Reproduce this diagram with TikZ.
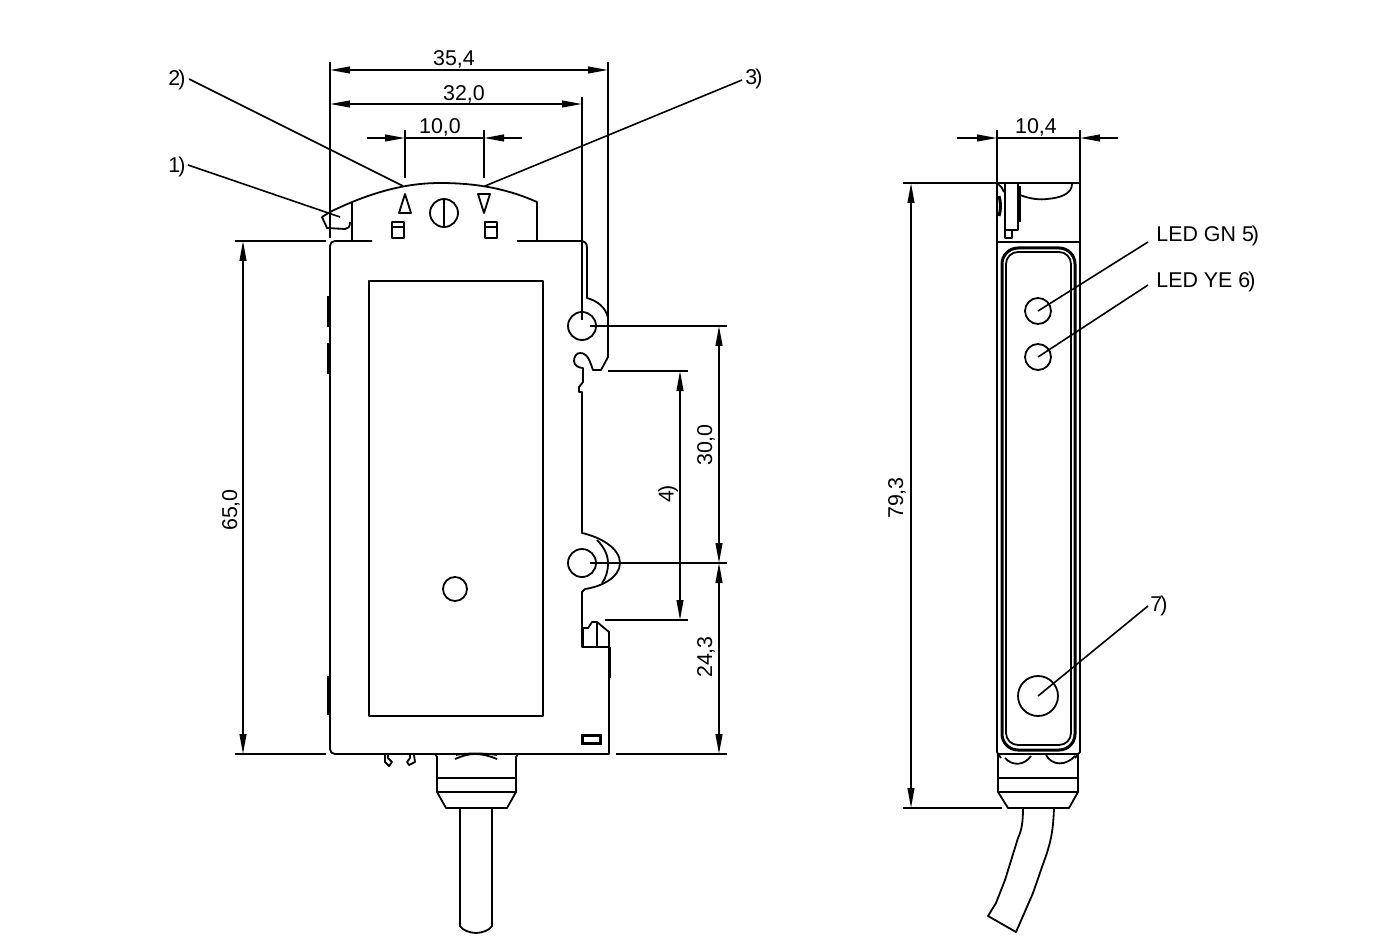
\documentclass[tikz,border=0pt]{standalone}
\usepackage{fontspec}
\setmainfont{Liberation Sans}
\usetikzlibrary{arrows.meta}
\begin{document}
\begin{tikzpicture}[x=0.5pt,y=-0.5pt,
  >={Triangle[length=10pt,width=3.4pt]},
  part/.style={line width=0.9pt,line join=round},
  thickpart/.style={line width=1.5pt},
  dimline/.style={line width=0.8pt},
  dimtext/.style={font=\fontsize{10.7}{12}\selectfont,inner sep=0pt}]

\useasboundingbox (0,0) rectangle (1380,946);

% front view
\draw [part] (372,241) -- (335,241) .. controls (332,241) and (330,243) .. (330,246) -- (330,749)
  .. controls (330,752) and (332,754) .. (335,754) -- (609,754) -- (609,632) -- (597,622) -- (592,622) -- (588,628) -- (582,628);
\draw [part] (517,241) -- (580,241) .. controls (585,241) and (587,243) .. (587,248) -- (587,298)
  .. controls (598,301) and (606,308) .. (608,318) -- (608,357) -- (601,370) -- (593,370)
  .. controls (590,362) and (588,353) .. (580,353) .. controls (576,353) and (574,357) .. (574,361)
  .. controls (574,365) and (578,368) .. (583,368) -- (583,382) -- (579,387) -- (579,392) -- (582,392) -- (582,533)
  .. controls (600,537) and (620,548) .. (620,563) .. controls (620,578) and (600,587) .. (585,589) -- (582,592) -- (582,647) -- (609,647);
\draw [part] (597,540) .. controls (604,547) and (608,555) .. (608,563) .. controls (608,571) and (606,578) .. (602,583);
\draw [part] (597,622) -- (597,647);
\draw [thickpart] (582,628) -- (582,647);
\draw [thickpart] (609,647) -- (609,678);
\draw [thickpart] (582,735) rectangle (600,743);

\draw [part] (330,212) .. controls (375,190) and (410,183) .. (440,183) .. controls (480,183) and (510,190) .. (537,202) -- (537,241);
\draw [part] (352,202) -- (352,241);
\draw [part] (330,212) -- (322,217) -- (327,228) -- (345,229) .. controls (348,229) and (350,227) .. (350,222);
\draw [part] (399,213) -- (411,213) -- (405,194) -- cycle;
\draw [part] (478,194) -- (490,194) -- (484,213) -- cycle;
\draw [part] (392,222) rectangle (404,238);
\draw [part] (392,227) -- (404,227);
\draw [part] (485,222) rectangle (497,238);
\draw [part] (485,227) -- (497,227);
\draw [part] (444,213) circle (14);
\draw [part] (444,199) -- (444,228);

\draw [part] (369,281) rectangle (543,716);
\draw [part] (455,589) circle (12);
\draw [part] (582,326) circle (14);
\draw [part] (582,563) circle (14);

\draw [thickpart] (328,296) -- (328,327);
\draw [thickpart] (328,343) -- (328,374);
\draw [thickpart] (328,676) -- (328,715);

\draw [part] (385,755) -- (385,762) -- (389,766) -- (392,762) -- (388,758) -- (388,755);
\draw [part] (414,755) -- (415,762) -- (409,765) -- (407,762) -- (410,758) -- (410,755);

% front connector and cable
\draw [part] (435,754) -- (437,757) -- (437,792) -- (446,808) -- (507,808) -- (516,792) -- (516,757) -- (518,754);
\draw [part] (437,778) -- (516,778);
\draw [part] (437,792) -- (516,792);
\draw [part] (455,759) .. controls (462,756) and (468,754) .. (475,754) .. controls (482,754) and (490,756) .. (497,759);
\draw [part] (456,755) .. controls (464,753) and (486,753) .. (497,755);
\draw [part] (460,808) -- (460,926) .. controls (462,930) and (470,933) .. (476,933) .. controls (482,933) and (490,930) .. (492,926) -- (492,808);

% side view
\draw [part] (997,183) -- (997,752) -- (998,754) -- (998,792) -- (1008,808) -- (1069,808) -- (1078,792) -- (1078,754) -- (1080,752) -- (1080,183) -- cycle;
\draw [part] (997,242) -- (1080,242);
\draw [part] (998,754) -- (1078,754);
\draw [part] (998,778) -- (1078,778);
\draw [part] (998,792) -- (1078,792);
\draw [part] (998,754) -- (1001,758);
\draw [part] (1078,754) -- (1075,758);
\draw [thickpart,rounded corners=8pt] (1002,248) rectangle (1075,750);
\draw [part,rounded corners=6pt] (1006,252) rectangle (1071,745);
\draw [part] (1005,184) -- (1005,238) -- (1012,238) -- (1012,230);
\draw [part] (1005,230) -- (1018,230) -- (1018,184);
\draw [thickpart] (1019,186) -- (1019,222);
\draw [part] (1020,195) .. controls (1030,199) and (1040,200) .. (1047,199) .. controls (1060,198) and (1072,194) .. (1072,184);
\draw [thickpart] (999,196) .. controls (1001,202) and (1001,210) .. (999,216);
\draw [part] (998,184) .. controls (1001,186) and (1003,189) .. (1004,192);
\draw [part] (1005,758) .. controls (1012,766) and (1024,766) .. (1031,756);
\draw [part] (1046,755) .. controls (1052,766) and (1066,766) .. (1075,756);
\draw [part] (1023,808) .. controls (1023,820) and (1022,830) .. (1018,838) -- (1005,880) -- (996,903) -- (988,916) -- (1016,932) -- (1033,893) -- (1042,867) .. controls (1050,845) and (1053,835) .. (1054,808);
\draw [part] (1038,311) circle (13);
\draw [part] (1038,357) circle (13);
\draw [part] (1038,696) circle (20);

% dimensions
\draw [dimline] (330,62) -- (330,238);
\draw [dimline] (608,62) -- (608,318);
\draw [dimline] (582,97) -- (582,320);
\draw [dimline] (405,130) -- (405,178);
\draw [dimline] (484,130) -- (484,178);
\draw [dimline] (235,241) -- (326,241);
\draw [dimline] (235,754) -- (326,754);
\draw [dimline] (590,326) -- (727,326);
\draw [dimline] (590,563) -- (727,563);
\draw [dimline] (616,754) -- (727,754);
\draw [dimline] (608,371) -- (688,371);
\draw [dimline] (605,620) -- (688,620);
\draw [dimline] (997,130) -- (997,183);
\draw [dimline] (1080,130) -- (1080,183);
\draw [dimline] (903,183) -- (997,183);
\draw [dimline] (903,808) -- (1002,808);

\draw [dimline,<->] (330,70) -- (608,70);
\draw [dimline,<->] (330,104) -- (582,104);
\draw [dimline,->] (367,138) -- (405,138);
\draw [dimline,->] (522,138) -- (484,138);
\draw [dimline] (405,138) -- (484,138);
\draw [dimline,<->] (243,241) -- (243,754);
\draw [dimline,<->] (719,326) -- (719,563);
\draw [dimline,<->] (719,563) -- (719,754);
\draw [dimline,<->] (680,371) -- (680,620);
\draw [dimline,<->] (911,183) -- (911,808);
\draw [dimline,->] (957,138) -- (997,138);
\draw [dimline,->] (1118,138) -- (1080,138);
\draw [dimline] (997,138) -- (1080,138);

\node [dimtext] (width354) at (454,59) {35,4};
\node [dimtext] (width320) at (464,94) {32,0};
\node [dimtext] (width100) at (440,127) {10,0};
\node [dimtext] (width104) at (1036,127) {10,4};
\node [dimtext,rotate=90] (height650) at (231,510) {65,0};
\node [dimtext,rotate=90] (height300) at (706,445) {30,0};
\node [dimtext,rotate=90] (height243) at (706,657) {24,3};
\node [dimtext,rotate=90] (height793) at (897,498) {79,3};
\node [dimtext,rotate=90] (label4) at (668,494) {4\kern-1pt)};

% callouts
\node [dimtext] (label1) at (177,167) {1\kern-1pt)};
\node [dimtext] (label2) at (177,80) {2\kern-1pt)};
\node [dimtext] (label3) at (754,79) {3\kern-1pt)};
\node [dimtext,anchor=west] (label5) at (1156,236) {LED GN 5\kern-1pt)};
\node [dimtext,anchor=west] (label6) at (1156,282) {LED YE 6\kern-1pt)};
\node [dimtext,anchor=west] (label7) at (1150,606) {7\kern-1pt)};

\coordinate (tab) at (340,217);
\coordinate (markA) at (403,186);
\coordinate (markB) at (485,186);
\coordinate (ledGN) at (1038,311);
\coordinate (ledYE) at (1038,357);
\coordinate (hole) at (1038,696);

\draw [dimline] (188,165) -- (tab);
\draw [dimline] (189,79) -- (markA);
\draw [dimline] (742,80) -- (markB);
\draw [dimline] (1148,242) -- (ledGN);
\draw [dimline] (1148,285) -- (ledYE);
\draw [dimline] (1148,606) -- (hole);

\end{tikzpicture}
\end{document}
